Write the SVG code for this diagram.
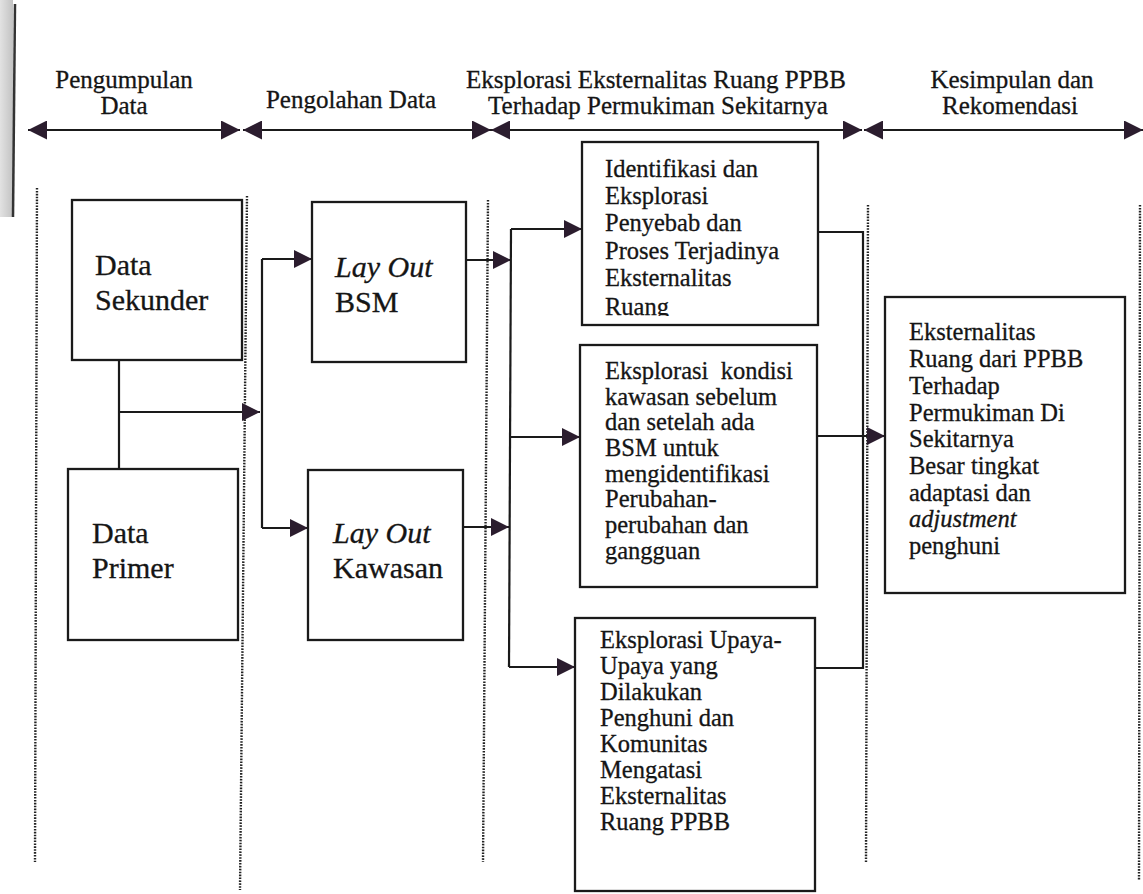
<svg xmlns="http://www.w3.org/2000/svg" width="1143" height="894" viewBox="0 0 1143 894">
<defs>
<style>
.t{font-family:"Liberation Serif","Times New Roman",serif;fill:#151515;stroke:#151515;stroke-width:0.3}
.h{font-size:25px;text-anchor:middle}
.big{font-size:30px}
.mid{font-size:24.5px}
.i{font-style:italic}
.box{fill:#fff;stroke:#1a1a1a;stroke-width:2.3}
.ln{fill:none;stroke:#1a1a1a;stroke-width:2.2}
.dot{fill:none;stroke:#222;stroke-width:2.4;stroke-dasharray:1.6 1.3}
.arr{marker-end:url(#ah)}
.dbl{marker-start:url(#hh);marker-end:url(#hh)}
</style>
<marker id="ah" viewBox="0 0 10 10" refX="10" refY="5" markerUnits="userSpaceOnUse" markerWidth="20" markerHeight="18" orient="auto-start-reverse">
<path d="M0,0 L10,5 L0,10 z" fill="#2b1d2e"/>
</marker>
<marker id="hh" viewBox="0 0 10 10" refX="10" refY="5" markerUnits="userSpaceOnUse" markerWidth="21" markerHeight="19" orient="auto-start-reverse">
<path d="M0,0 L10,5 L0,10 z" fill="#2b1d2e"/>
</marker>
<linearGradient id="edge" x1="0" x2="1" y1="0" y2="0">
<stop offset="0" stop-color="#cfcfcf"/>
<stop offset="1" stop-color="#9a9a9a"/>
</linearGradient>
<clipPath id="clip1"><rect x="582" y="142" width="236" height="174"/></clipPath>
</defs>
<rect width="1143" height="894" fill="#fff"/>
<g id="page-edge">
<rect x="0" y="0" width="13" height="217" fill="url(#edge)" opacity="0.6"/>
<line x1="15" y1="4" x2="13" y2="217" stroke="#333" stroke-width="2.5"/>
</g>
<g id="lanes">
<line class="dot" x1="37" y1="188" x2="35" y2="862"/>
<line class="dot" x1="247" y1="196" x2="240" y2="890"/>
<line class="dot" x1="488" y1="200" x2="483" y2="862"/>
<line class="dot" x1="868" y1="205" x2="866" y2="862"/>
<line class="dot" x1="1140" y1="205" x2="1139" y2="880"/>
</g>
<g id="headers">
<text class="t h" x="124" y="88">Pengumpulan</text>
<text class="t h" x="124" y="114">Data</text>
<text class="t h" x="351" y="108">Pengolahan Data</text>
<text class="t h" x="656" y="88">Eksplorasi Eksternalitas Ruang PPBB</text>
<text class="t h" x="658" y="114">Terhadap Permukiman Sekitarnya</text>
<text class="t h" x="1012" y="88">Kesimpulan dan</text>
<text class="t h" x="1010" y="114">Rekomendasi</text>
<line class="ln dbl" x1="28" y1="130" x2="240" y2="130"/>
<line class="ln dbl" x1="243" y1="130" x2="491" y2="130"/>
<line class="ln dbl" x1="491" y1="130" x2="862" y2="130"/>
<line class="ln dbl" x1="864" y1="130" x2="1143" y2="130"/>
</g>
<g id="connectors">
<polyline class="ln" points="119,360 119,480"/>
<polyline class="ln arr" points="119,412 260,412"/>
<polyline class="ln" points="262,259 262,528"/>
<polyline class="ln arr" points="262,259 312,259"/>
<polyline class="ln arr" points="262,528 308,528"/>
<polyline class="ln arr" points="466,260 511,260"/>
<polyline class="ln arr" points="463,527 509,527"/>
<polyline class="ln" points="511,229 509,667"/>
<polyline class="ln arr" points="511,229 582,229"/>
<polyline class="ln arr" points="510,437 580,437"/>
<polyline class="ln arr" points="509,667 575,667"/>
<polyline class="ln" points="818,232 863,232 863,668 815,668"/>
<polyline class="ln arr" points="817,436 885,436"/>
</g>
<g id="data-sekunder">
<rect class="box" x="72" y="200" width="170" height="160"/>
<text class="t big" x="95" y="275">Data</text>
<text class="t big" x="95" y="310">Sekunder</text>
</g>
<g id="data-primer">
<rect class="box" x="68" y="469" width="170" height="171"/>
<text class="t big" x="92" y="543">Data</text>
<text class="t big" x="92" y="578">Primer</text>
</g>
<g id="layout-bsm">
<rect class="box" x="312" y="202" width="154" height="160"/>
<text class="t big i" x="335" y="277">Lay Out</text>
<text class="t big" x="335" y="312">BSM</text>
</g>
<g id="layout-kawasan">
<rect class="box" x="308" y="470" width="155" height="170"/>
<text class="t big i" x="333" y="543">Lay Out</text>
<text class="t big" x="333" y="578">Kawasan</text>
</g>
<g id="identifikasi">
<rect class="box" x="582" y="142" width="236" height="183"/>
<text class="t mid" clip-path="url(#clip1)">
<tspan x="605" y="177">Identifikasi dan</tspan>
<tspan x="605" y="204">Eksplorasi</tspan>
<tspan x="605" y="231">Penyebab dan</tspan>
<tspan x="605" y="259">Proses Terjadinya</tspan>
<tspan x="605" y="286">Eksternalitas</tspan>
<tspan x="605" y="315">Ruang</tspan>
</text>
</g>
<g id="kondisi">
<rect class="box" x="580" y="345" width="237" height="242"/>
<text class="t mid">
<tspan x="605" y="379" xml:space="preserve">Eksplorasi  kondisi</tspan>
<tspan x="605" y="405">kawasan sebelum</tspan>
<tspan x="605" y="430">dan setelah ada</tspan>
<tspan x="605" y="456">BSM untuk</tspan>
<tspan x="605" y="482">mengidentifikasi</tspan>
<tspan x="605" y="507">Perubahan-</tspan>
<tspan x="605" y="533">perubahan dan</tspan>
<tspan x="605" y="559">gangguan</tspan>
</text>
</g>
<g id="upaya">
<rect class="box" x="575" y="618" width="240" height="273"/>
<text class="t mid">
<tspan x="600" y="648">Eksplorasi Upaya-</tspan>
<tspan x="600" y="674">Upaya yang</tspan>
<tspan x="600" y="700">Dilakukan</tspan>
<tspan x="600" y="726">Penghuni dan</tspan>
<tspan x="600" y="752">Komunitas</tspan>
<tspan x="600" y="778">Mengatasi</tspan>
<tspan x="600" y="804">Eksternalitas</tspan>
<tspan x="600" y="830">Ruang PPBB</tspan>
</text>
</g>
<g id="eksternalitas">
<rect class="box" x="885" y="297" width="240" height="296"/>
<text class="t mid">
<tspan x="909" y="340">Eksternalitas</tspan>
<tspan x="909" y="367">Ruang dari PPBB</tspan>
<tspan x="909" y="394">Terhadap</tspan>
<tspan x="909" y="421">Permukiman Di</tspan>
<tspan x="909" y="447">Sekitarnya</tspan>
<tspan x="909" y="474">Besar tingkat</tspan>
<tspan x="909" y="501">adaptasi dan</tspan>
<tspan x="909" y="527" font-style="italic">adjustment</tspan>
<tspan x="909" y="554">penghuni</tspan>
</text>
</g>
</svg>
